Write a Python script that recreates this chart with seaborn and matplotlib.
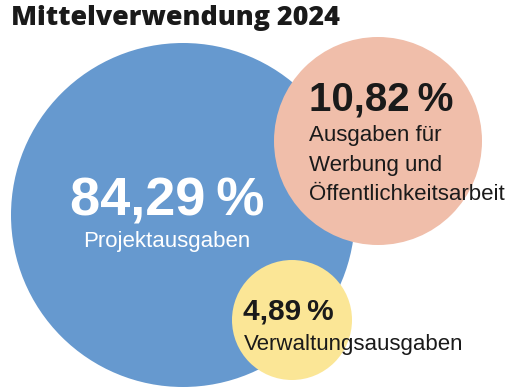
import matplotlib
matplotlib.use("Agg")
import matplotlib.pyplot as plt
import seaborn as sns
from matplotlib.patches import Circle

# ── Data ──────────────────────────────────────────────────────────────────────
title = "Mittelverwendung 2024"
categories = ["Projektausgaben",
              "Ausgaben für\nWerbung und\nÖffentlichkeitsarbeit",
              "Verwaltungsausgaben"]
shares = [84.29, 10.82, 4.89]

# ── Layout (pixel coords of a 510x392 canvas) ────────────────────────────────
centers = [(183, 215), (378, 141), (292, 320)]
radii = [172, 104, 60]
colors = ["#6699CF", "#F0BEAA", "#FBE696"]
text_colors = ["white", "#1a1a1a", "#1a1a1a"]

sns.set_theme(style="white")
plt.rcParams["font.family"] = ["Liberation Sans", "DejaVu Sans"]

fig = plt.figure(figsize=(5.1, 3.92), dpi=100)
ax = fig.add_axes([0, 0, 1, 1])
ax.set_xlim(0, 510)
ax.set_ylim(392, 0)
ax.set_aspect("equal")
ax.axis("off")

for (cx, cy), r, c in zip(centers, radii, colors):
    ax.add_patch(Circle((cx, cy), r, facecolor=c, edgecolor="none"))


def pct(v):
    return f"{v:.2f}".replace(".", ",") + "\u2009%"


# big circle: centred labels
ax.text(167, 215, pct(shares[0]), color=text_colors[0], fontsize=39,
        fontweight="bold", ha="center", va="baseline")
ax.text(167, 247, categories[0], color=text_colors[0], fontsize=16,
        ha="center", va="baseline")

# salmon circle: left aligned
ax.text(309, 110, pct(shares[1]), color=text_colors[1], fontsize=29,
        fontweight="bold", ha="left", va="baseline")
for i, line in enumerate(categories[1].split("\n")):
    ax.text(309, 141 + i * 29.5, line, color=text_colors[1], fontsize=16,
            ha="left", va="baseline")

# yellow circle
ax.text(243, 320, pct(shares[2]), color=text_colors[2], fontsize=21.5,
        fontweight="bold", ha="left", va="baseline")
ax.text(244, 350, categories[2], color=text_colors[2], fontsize=16,
        ha="left", va="baseline")

ax.text(11, 25, title, color="#1a1a1a", fontsize=19.4, fontweight="heavy",
        family=["Open Sans", "DejaVu Sans"], ha="left", va="baseline")

fig.savefig("out.png", dpi=100)
